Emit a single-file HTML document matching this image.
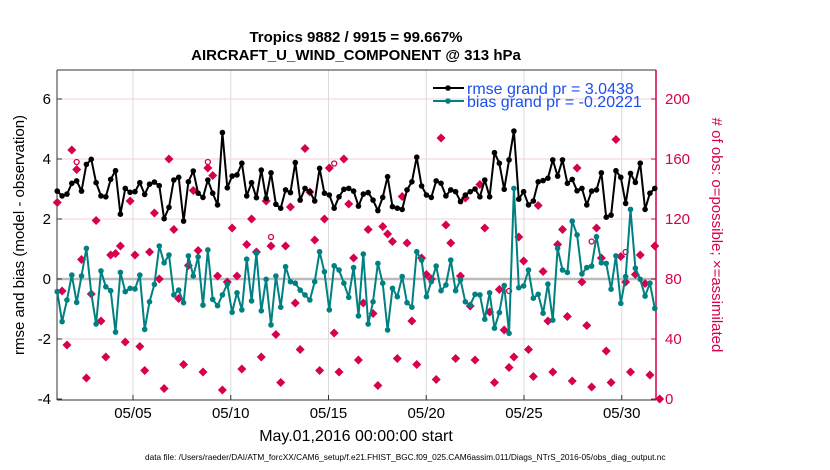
<!DOCTYPE html>
<html><head><meta charset="utf-8"><style>
body{margin:0;background:#fff;}
svg{display:block;font-family:"Liberation Sans",sans-serif;}
</style></head><body>
<svg id="chart" width="830" height="470" viewBox="0 0 830 470" xmlns="http://www.w3.org/2000/svg">
<text x="356" y="42" text-anchor="middle" font-size="15" font-weight="bold">Tropics 9882 / 9915 = 99.667%</text>
<text x="356" y="60" text-anchor="middle" font-size="15" font-weight="bold">AIRCRAFT_U_WIND_COMPONENT @ 313 hPa</text>
<g id="grid"></g>
<g id="axes"></g>
<g id="marks"></g>
<text transform="translate(24,235) rotate(-90)" text-anchor="middle" font-size="15">rmse and bias (model - observation)</text>
<text transform="translate(712,235) rotate(90)" text-anchor="middle" font-size="15" fill="#d6004f"># of obs: o=possible; ×=assimilated</text>
<text x="356" y="441" text-anchor="middle" font-size="16">May.01,2016 00:00:00 start</text>
<text x="145" y="460" font-size="8.3">data file: /Users/raeder/DAI/ATM_forcXX/CAM6_setup/f.e21.FHIST_BGC.f09_025.CAM6assim.011/Diags_NTrS_2016-05/obs_diag_output.nc</text>
<g>
<line x1="433" y1="88" x2="464" y2="88" stroke="#000" stroke-width="2"/>
<circle cx="448" cy="88" r="2.8" fill="#000"/>
<text x="467" y="94" font-size="16" fill="#1a4ff0">rmse grand pr = 3.0438</text>
<line x1="433" y1="101" x2="464" y2="101" stroke="#008080" stroke-width="2"/>
<circle cx="448" cy="101" r="2.8" fill="#008080"/>
<text x="467" y="107" font-size="16" fill="#1a4ff0">bias grand pr = -0.20221</text>
</g>
</svg>
<script>
const rmse=[2.93,2.77,2.83,3.19,3.27,2.93,3.82,3.99,3.21,2.77,2.74,3.32,3.61,2.16,3.02,2.89,2.91,3.21,2.82,3.16,3.23,3.11,2.01,2.39,3.3,3.39,1.93,3.24,3.6,2.86,2.72,3.3,2.86,2.47,4.88,3.04,3.43,3.47,3.86,2.77,3.21,2.71,3.63,
2.69,3.54,2.49,2.36,2.97,2.88,3.88,2.63,3.02,2.91,2.6,3.69,2.86,2.8,2.36,2.74,2.99,3.02,2.93,2.43,2.83,2.88,2.63,2.28,2.72,3.41,2.41,2.36,2.32,2.97,3.24,4.06,3.1,2.8,2.72,3.27,3.19,2.77,2.97,2.91,2.58,
2.8,2.91,3.0,2.74,3.3,2.74,4.21,3.86,2.99,3.97,4.93,2.66,2.91,2.47,2.6,3.24,3.28,3.36,3.97,3.43,3.97,3.19,3.32,2.94,3.02,2.47,2.93,2.97,3.54,2.06,2.13,3.61,3.39,2.52,3.52,3.22,3.86,2.32,2.86,3.02];
const bias=[-0.42,-1.42,-0.7,0.13,-0.78,0.1,1.02,-0.48,-1.5,0.27,-0.26,-0.39,-1.77,0.22,-0.42,-0.31,-0.33,0.13,-1.68,-0.76,-0.18,1.1,0.54,0.8,-0.53,-0.37,-0.79,0.77,0.1,0.74,-0.87,0.97,-0.68,-0.89,-0.53,-0.17,-1.11,-0.46,-1.03,0.66,-0.73,0.86,-1.06,
-0.01,-1.53,0.1,-0.94,0.41,-0.09,-0.14,-0.37,-0.53,-0.7,-0.09,0.91,0.24,-1.03,0.44,0.3,-0.14,-0.61,0.38,-1.23,0.83,-1.5,-0.76,0.52,-0.14,-1.7,-0.31,-0.59,0.08,-0.79,-0.94,0.91,0.63,-0.59,-0.09,0.43,-0.39,-0.2,0.63,-0.39,-0.03,
-0.76,-0.87,-0.51,-0.53,-1.34,-0.46,-1.64,-1.12,-0.22,-1.81,3.02,-0.29,-0.23,0.3,-0.64,-0.51,-1.14,-0.17,-1.37,1.02,0.3,0.22,1.93,1.47,0.17,0.38,0.43,1.41,0.54,0.52,-0.34,0.77,-0.81,0.08,2.32,0.36,-0.01,-0.57,-0.14,-0.98];
const nUsed=[131,72,36,166,153,93,14,70,119,52,28,96,97,102,38,132,96,35,19,98,124,80,7,160,113,67,23,89,139,99,18,154,149,82,6,78,114,82,20,103,120,98,28,
132,102,43,11,102,128,64,33,167,138,106,19,120,154,44,18,160,130,94,26,64,113,57,9,115,110,105,27,135,104,52,23,94,83,80,13,174,116,104,27,82,
134,62,26,143,114,58,11,73,46,21,28,108,92,33,15,129,85,52,18,103,113,55,12,154,78,49,8,114,94,32,11,173,95,78,18,83,96,77,16,102,0];
const possIdx=[4,31,44,57,110,93,117];
const possVal=[158,158,108,157,105,72,98];
const xTickLabels=["05/05","05/10","05/15","05/20","05/25","05/30"];
const xTickDays=[4,9,14,19,24,29];
const yTicks=[-4,-2,0,2,4,6];
const y2Ticks=[0,40,80,120,160,200];

const NS="http://www.w3.org/2000/svg";
const L=57,R=656,T=70,B=400;
const xDay=d=>54.8+d*19.55;
const xIdx=i=>xDay(0.125+i*0.2485);
const yL=v=>279-v*30;
const yR=c=>399-c*1.5;
function mk(tag,attrs,parent){const e=document.createElementNS(NS,tag);for(const k in attrs)e.setAttribute(k,attrs[k]);parent.appendChild(e);return e;}
const grid=document.getElementById('grid'),axes=document.getElementById('axes'),marks=document.getElementById('marks');
mk('rect',{x:L,y:T,width:R-L,height:B-T,fill:'#fff'},grid);
xTickDays.forEach((d,i)=>{
  const x=xDay(d);
  const g=mk('line',{x1:x,y1:T,x2:x,y2:B,stroke:'#dcdcdc','stroke-width':1},grid);
  
  
  mk('line',{x1:x,y1:B,x2:x,y2:B-5,stroke:'#333'},axes);
  const t=mk('text',{x:x,y:418,'text-anchor':'middle','font-size':15},axes);
  t.textContent=xTickLabels[i];
  
  
});
y2Ticks.forEach(c=>{
  const y=yR(c);
  if(c>0){const g=mk('line',{x1:L,y1:y,x2:R,y2:y,stroke:'#f2d0dc','stroke-width':1},grid);
  
  }
  mk('line',{x1:R,y1:y,x2:R-5,y2:y,stroke:'#d6004f'},axes);
  const t=mk('text',{x:665,y:y+5,'font-size':15,fill:'#d6004f'},axes);
  t.textContent=c;
  
  
});
yTicks.forEach(v=>{
  const y=yL(v);
  mk('line',{x1:L,y1:y,x2:L+5,y2:y,stroke:'#333'},axes);
  const t=mk('text',{x:51,y:y+5,'text-anchor':'end','font-size':15},axes);
  t.textContent=v;
  
  
});
const zl=mk('line',{x1:L,y1:yL(0),x2:R,y2:yL(0),stroke:'#bbbbbb','stroke-width':2.5},grid);


mk('line',{x1:L,y1:T,x2:R,y2:T,stroke:'#333'},axes);
mk('line',{x1:L,y1:B,x2:R,y2:B,stroke:'#333'},axes);
mk('line',{x1:L,y1:T,x2:L,y2:B,stroke:'#333'},axes);
mk('line',{x1:R,y1:T,x2:R,y2:B,stroke:'#d6004f','stroke-width':1.5},axes);
nUsed.forEach((c,i)=>{
  const x=xIdx(i),y=yR(c);
  const d=mk('path',{d:`M${x-4.5},${y}L${x},${y-4.5}L${x+4.5},${y}L${x},${y+4.5}Z`,fill:'#d6004f'},marks);
  
  
});
possIdx.forEach((idx,k)=>{
  const c=mk('circle',{cx:xIdx(idx),cy:yR(possVal[k]),r:2.5,fill:'none',stroke:'#d6004f','stroke-width':1.3},marks);
  
  
});
function series(arr,color,name){
  const pts=arr.map((v,i)=>xIdx(i).toFixed(1)+','+yL(v).toFixed(1)).join(' ');
  const p=mk('polyline',{points:pts,fill:'none',stroke:color,'stroke-width':2,'stroke-linejoin':'round'},marks);
  
  
  arr.forEach((v,i)=>{
    const c=mk('circle',{cx:xIdx(i),cy:yL(v),r:2.8,fill:color},marks);
    
    
  });
}
series(rmse,'#000','rmse');
series(bias,'#008080','bias');
</script>
</body></html>
